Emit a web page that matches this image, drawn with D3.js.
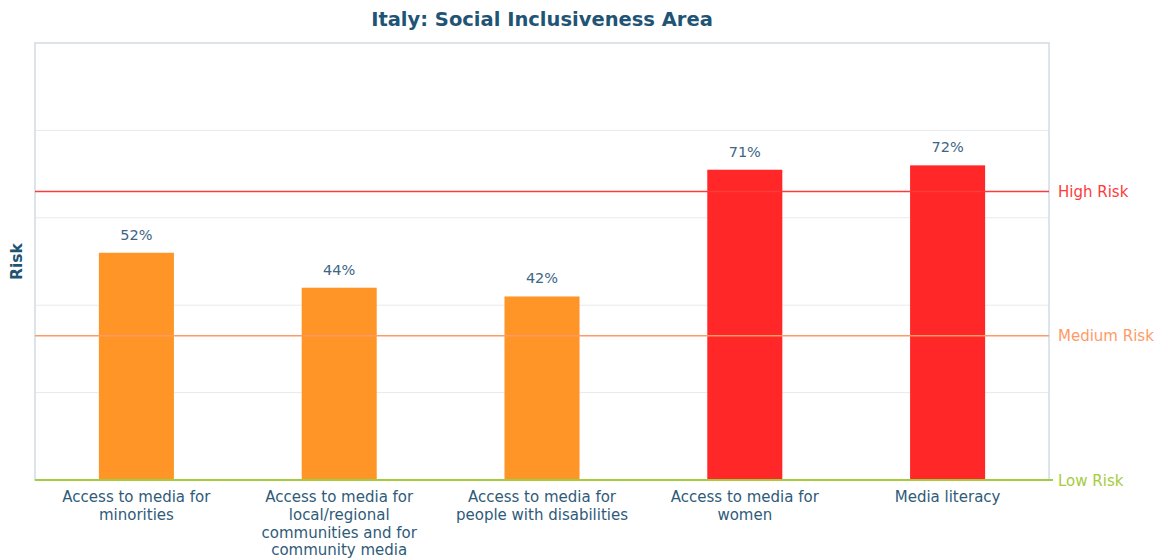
<!DOCTYPE html>
<html><head><meta charset="utf-8">
<script src="https://cdn.jsdelivr.net/npm/d3@7"></script>
<style>body{margin:0;background:#fff;} text{font-family:"DejaVu Sans",sans-serif;}</style>
</head><body><svg id="c" width="1160" height="560"></svg>
<script>
const categories = [
  ["Access to media for","minorities"],
  ["Access to media for","local/regional","communities and for","community media"],
  ["Access to media for","people with disabilities"],
  ["Access to media for","women"],
  ["Media literacy"]
];
const values = [52, 44, 42, 71, 72];
const riskLevels = ["Low Risk","Medium Risk","High Risk"];
const riskThresholds = [0, 33, 66];
const yTicks = [0, 20, 40, 60, 80, 100];

const svg = d3.select("#c");
const m = {l:35, r:1049, t:43, b:480};
const x = d3.scaleBand().domain(d3.range(values.length)).range([m.l, m.r]).paddingInner(0.63).paddingOuter(0.315);
const y = d3.scaleLinear().domain([0,100]).range([m.b, m.t]);

// grid
svg.append("g").selectAll("line").data(yTicks.slice(1,-1)).join("line")
  .attr("x1", m.l).attr("x2", m.r).attr("y1", d=>y(d)).attr("y2", d=>y(d))
  .attr("stroke", "#e6eaee").attr("stroke-width", 1);
// frame
svg.append("rect").attr("x", m.l).attr("y", m.t).attr("width", m.r-m.l).attr("height", m.b-m.t)
  .attr("fill","none").attr("stroke","#cfdce4").attr("stroke-width",1.5);

// bars
const barColor = v => v >= riskThresholds[2] ? "#ff2727" : "#ff9526";
svg.append("g").selectAll("rect").data(values).join("rect")
  .attr("x", (d,i)=>x(i)).attr("width", x.bandwidth())
  .attr("y", d=>y(d)).attr("height", d=>y(0)-y(d))
  .attr("fill", barColor);

// value labels
svg.append("g").selectAll("text").data(values).join("text")
  .attr("x", (d,i)=>x(i)+x.bandwidth()/2).attr("y", d=>y(d)-13)
  .attr("text-anchor","middle").attr("font-size",14.5).attr("fill","#3d6584")
  .text(d=>d+"%");

// risk lines
const riskColors = ["#a5cc3c","#ff9a66","#ff3a3a"];
riskLevels.forEach((lab,i)=>{
  const yy = y(riskThresholds[i]);
  svg.append("line").attr("x1", m.l).attr("x2", i===0 ? m.r+4 : m.r)
    .attr("y1", yy).attr("y2", yy).attr("stroke", riskColors[i]).attr("stroke-width", i===0?2:1.5);
  svg.append("text").attr("x", 1058).attr("y", yy+5.5).attr("font-size",15)
    .attr("fill", riskColors[i]).text(lab);
});

// x labels
const xl = svg.append("g");
categories.forEach((lines,i)=>{
  const t = xl.append("text").attr("text-anchor","middle").attr("font-size",15).attr("fill","#2f5b79")
    .attr("x", x(i)+x.bandwidth()/2).attr("y", 502);
  lines.forEach((ln,j)=>t.append("tspan").attr("x", x(i)+x.bandwidth()/2).attr("dy", j===0?0:17.8).text(ln));
});

// title
svg.append("text").attr("x", 542).attr("y", 26).attr("text-anchor","middle")
  .attr("font-size",19.5).attr("font-weight","bold").attr("fill","#1f5475")
  .text("Italy: Social Inclusiveness Area");

// y label
svg.append("text").attr("transform", `translate(22,${(m.t+m.b)/2}) rotate(-90)`)
  .attr("text-anchor","middle").attr("font-size",15.5).attr("font-weight","bold").attr("fill","#1f5475")
  .text("Risk");
</script></body></html>
